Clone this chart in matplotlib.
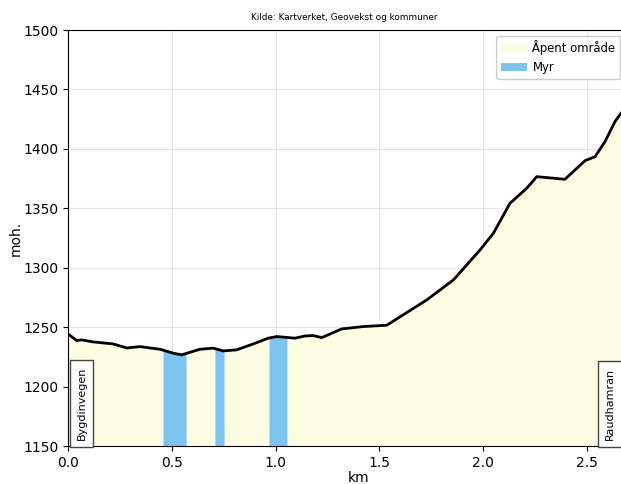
import matplotlib
matplotlib.use("Agg")
import matplotlib.pyplot as plt
import numpy as np

dist_km = [0.0, 0.042, 0.066, 0.12, 0.217, 0.283, 0.347, 0.443, 0.507, 0.548,
           0.636, 0.700, 0.748, 0.813, 0.893, 0.965, 1.006, 1.094, 1.142, 1.182,
           1.223, 1.319, 1.423, 1.536, 1.729, 1.857, 1.986, 2.05, 2.13, 2.211,
           2.259, 2.395, 2.492, 2.540, 2.588, 2.636, 2.665, 2.72]
elev_m = [1244.3, 1238.7, 1239.3, 1237.6, 1235.9, 1232.5, 1233.6, 1231.4, 1228.1, 1226.7,
          1231.4, 1232.3, 1230.0, 1230.9, 1235.9, 1240.7, 1242.1, 1240.7, 1242.6, 1242.9,
          1241.2, 1248.5, 1250.5, 1251.6, 1272.9, 1289.7, 1315.0, 1329.0, 1354.2, 1366.9,
          1376.6, 1374.4, 1390.1, 1393.4, 1406.1, 1422.9, 1430.0, 1440.0]
myr_start = [0.458, 0.708, 0.969]
myr_end = [0.569, 0.752, 1.055]
places = ["Bygdinvegen", "Raudhamran"]
place_km = [0.065, 2.612]

ymin, ymax = 1150, 1500
open_color = "#fdfde3"
myr_color = "#7cc3ee"

fig = plt.figure(figsize=(6.21, 4.84), dpi=100)
W, H = 621, 484
x0, xr = 68, 207.5
xmax = 2.8
ax = fig.add_axes([x0 / W, (H - 446) / H, xmax * xr / W, 416 / H])

d = np.array(dist_km)
e = np.array(elev_m)
ax.fill_between(d, ymin, e, color=open_color, lw=0, label="Åpent område", zorder=1)
for i, (s, t) in enumerate(zip(myr_start, myr_end)):
    xs = np.linspace(s, t, 20)
    ax.fill_between(xs, ymin, np.interp(xs, d, e), color=myr_color, lw=0,
                    label="Myr" if i == 0 else None, zorder=2)
ax.plot(d, e, color="black", lw=2, zorder=3)

for name, xk in zip(places, place_km):
    ax.text(xk, 1155, name, rotation=90, ha="center", va="bottom", fontsize=8,
            bbox=dict(boxstyle="square,pad=0.6", fc="white", ec="#444444", lw=1),
            zorder=4)

ax.set_xlim(0, xmax)
ax.set_ylim(ymin, ymax)
ax.set_xticks([0.0, 0.5, 1.0, 1.5, 2.0, 2.5])
ax.set_yticks(np.arange(1150, 1501, 50))
ax.grid(True, color="#e6e6e6", lw=0.8, zorder=0)
ax.set_axisbelow(True)
ax.tick_params(labelsize=10)
ax.set_xlabel("km", fontsize=10, labelpad=1)
ax.set_ylabel("moh.", fontsize=10, labelpad=0)
ax.spines["right"].set_visible(False)

fig.text(344 / W, 1 - 18 / H, "Kilde: Kartverket, Geovekst og kommuner",
         ha="center", va="center", fontsize=6.4)

h, l = ax.get_legend_handles_labels()
fig.legend(h, l, loc="upper right", bbox_to_anchor=(626 / W, 1 - 30 / H),
           fontsize=8.4, framealpha=1, edgecolor="#cccccc", handletextpad=0.5,
           handlelength=2.2)

fig.savefig("out.png", dpi=100)
